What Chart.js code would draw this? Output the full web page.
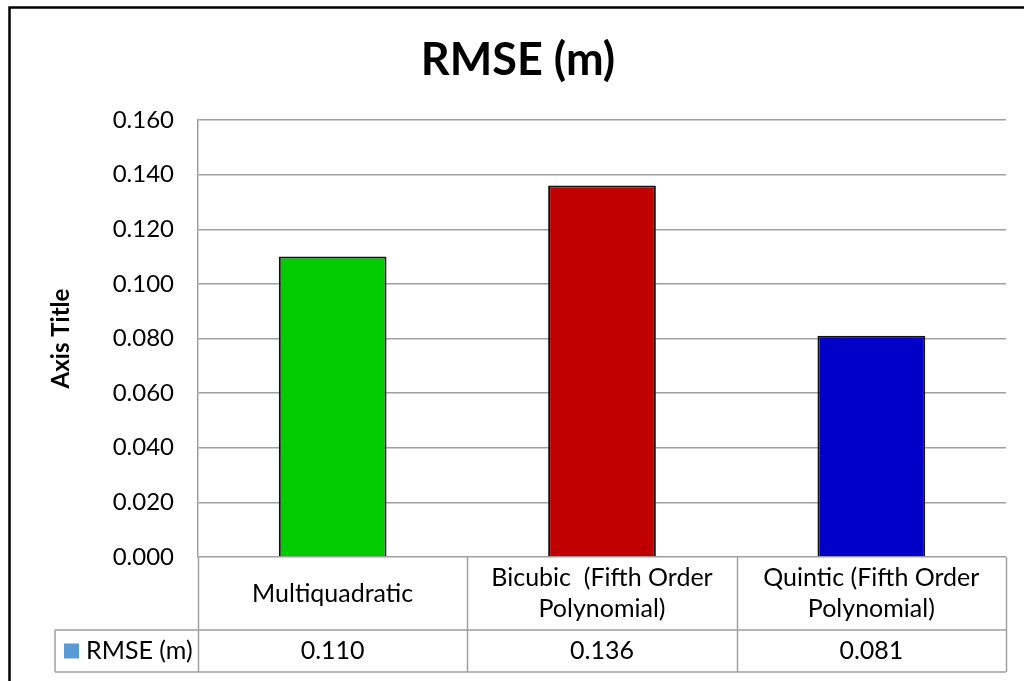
<!DOCTYPE html>
<html>
<head>
<meta charset="utf-8">
<script src="https://cdn.jsdelivr.net/npm/chart.js@4.4.1/dist/chart.umd.min.js"></script>
<style>
  html, body { margin: 0; padding: 0; background: #ffffff; }
  #wrap { width: 1024px; height: 681px; position: relative; }
</style>
</head>
<body>
<div id="wrap"><canvas id="c" width="1024" height="681"></canvas></div>
<script>
// ---- data ----
const categories = [
  ['Multiquadratic'],
  ['Bicubic  (Fifth Order', 'Polynomial)'],
  ['Quintic (Fifth Order', 'Polynomial)']
];
const seriesName = 'RMSE (m)';
const rmseValues = [0.110, 0.136, 0.081];
const valueLabels = ['0.110', '0.136', '0.081'];
const barColors = ['#00CC00', '#C00000', '#0000C8'];
const legendColor = '#5B9BD5';
const yTicks = [0, 0.02, 0.04, 0.06, 0.08, 0.10, 0.12, 0.14, 0.16];

const FONT = 'Lato, "Open Sans", sans-serif';
const GRID = '#a0a0a0';

const frame = {
  id: 'frame',
  beforeDraw(chart) {
    const ctx = chart.ctx;
    ctx.save();
    ctx.fillStyle = '#ffffff';
    ctx.fillRect(0, 0, chart.width, chart.height);
    ctx.strokeStyle = '#000000';
    ctx.lineWidth = 2.5;
    ctx.strokeRect(9.5, 7.5, 1040, 700);
    ctx.restore();
  }
};

const dataTable = {
  id: 'dataTable',
  afterDraw(chart) {
    const ctx = chart.ctx;
    const area = chart.chartArea;
    const xs = chart.scales.x;
    const n = categories.length;
    const w = (area.right - area.left) / n;
    const top = area.bottom;
    const mid = top + 73;
    const bot = top + 115;
    const legLeft = 55;
    ctx.save();
    ctx.strokeStyle = GRID;
    ctx.lineWidth = 1.5;
    ctx.beginPath();
    for (let i = 0; i <= n; i++) {
      const x = Math.round(area.left + i * w) + 0.5;
      ctx.moveTo(x, top);
      ctx.lineTo(x, bot);
    }
    ctx.moveTo(legLeft, mid); ctx.lineTo(area.right, mid);
    ctx.moveTo(legLeft, bot); ctx.lineTo(area.right, bot);
    ctx.moveTo(legLeft, mid); ctx.lineTo(legLeft, bot);
    ctx.stroke();

    ctx.fillStyle = '#000000';
    ctx.font = '25px ' + FONT;
    ctx.textAlign = 'center';
    ctx.textBaseline = 'middle';
    for (let i = 0; i < n; i++) {
      const cx = xs.getPixelForValue(i);
      const lines = categories[i];
      const lh = 31;
      const y0 = (top + mid) / 2 - (lines.length - 1) * lh / 2;
      lines.forEach((t, k) => ctx.fillText(t, cx, y0 + k * lh));
      ctx.fillText(valueLabels[i], cx, (mid + bot) / 2);
    }
    // legend key
    const ly = (mid + bot) / 2;
    ctx.fillStyle = legendColor;
    ctx.fillRect(64, ly - 7.5, 15, 15);
    ctx.fillStyle = '#000000';
    ctx.textAlign = 'left';
    ctx.fillText(seriesName, 86, ly);
    ctx.restore();
  }
};

new Chart(document.getElementById('c'), {
  type: 'bar',
  data: {
    labels: categories.map(c => c.join(' ')),
    datasets: [{
      label: seriesName,
      data: rmseValues,
      backgroundColor: barColors,
      borderColor: '#111111',
      borderWidth: 2,
      barPercentage: 0.4,
      categoryPercentage: 1.0
    }]
  },
  options: {
    responsive: false,
    animation: false,
    layout: { padding: { left: 30, right: 18, top: 0, bottom: 124 } },
    plugins: {
      legend: { display: false },
      tooltip: { enabled: false },
      title: {
        display: true,
        text: 'RMSE (m)',
        color: '#000000',
        font: { family: FONT, size: 45, weight: 'bold' },
        padding: { top: 33, bottom: 33 }
      }
    },
    scales: {
      x: {
        display: false,
        offset: true
      },
      y: {
        min: 0,
        max: 0.16,
        afterBuildTicks(scale) { scale.ticks = yTicks.map(v => ({ value: v })); },
        afterFit(scale) { scale.width = 168; },
        ticks: {
          color: '#000000',
          font: { family: FONT, size: 24 },
          padding: 24,
          callback: v => Number(v).toFixed(3)
        },
        grid: { color: GRID, lineWidth: 1.5, drawTicks: false },
        border: { display: true, color: GRID, width: 1.5 },
        title: {
          display: true,
          text: 'Axis Title',
          color: '#000000',
          font: { family: FONT, size: 24, weight: 'bold' },
          padding: { top: 17, bottom: 0 }
        }
      }
    }
  },
  plugins: [frame, dataTable]
});
</script>
</body>
</html>
